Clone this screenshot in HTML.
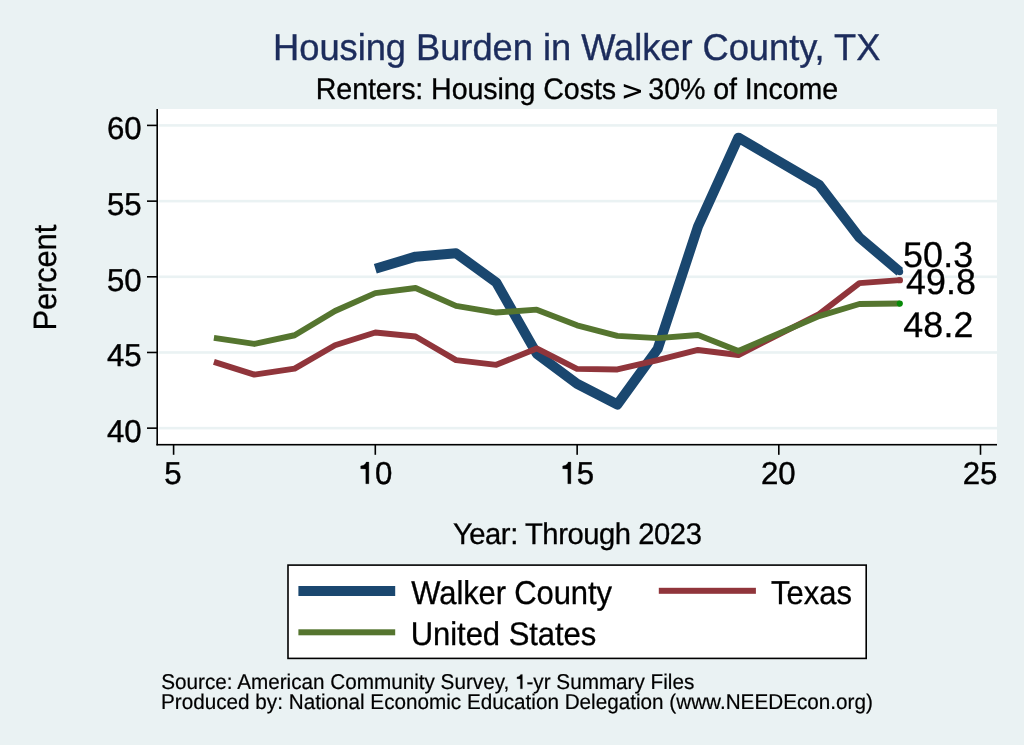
<!DOCTYPE html>
<html><head><meta charset="utf-8"><title>Housing Burden in Walker County, TX</title><style>
html,body{margin:0;padding:0;background:#EAF2F3;overflow:hidden;}
svg{display:block;will-change:transform;}
text{font-family:"Liberation Sans",sans-serif;text-rendering:geometricPrecision;}
</style></head><body>
<svg width="1024" height="745" viewBox="0 0 1024 745">
<rect x="0" y="0" width="1024" height="745" fill="#EAF2F3"/>
<text transform="translate(273.1,59.6) scale(1,1.0274)" font-size="36.3" style="fill:#1C2C5C;stroke:#1C2C5C;stroke-width:0.35px;letter-spacing:-0.038px;">Housing Burden in Walker County, TX</text>
<text transform="translate(315.8,98.65) scale(1,1.0419)" font-size="28.6" style="fill:#000;stroke:#000;stroke-width:0.3px;letter-spacing:-0.081px;">Renters: Housing Costs <tspan style="fill:transparent;stroke:none">&gt;</tspan> 30% of Income</text>
<polygon points="623.8,84.0 641.0,90.1 641.0,92.6 623.8,98.85 623.8,95.85 637.8,91.35 623.8,86.85" fill="#000"/>
<rect x="157" y="109" width="840" height="335.5" fill="#fff"/>
<rect x="158.6" y="124.10" width="838.4" height="2.6" fill="#EAF2F3"/><rect x="158.6" y="199.84" width="838.4" height="2.6" fill="#EAF2F3"/><rect x="158.6" y="275.50" width="838.4" height="2.6" fill="#EAF2F3"/><rect x="158.6" y="351.17" width="838.4" height="2.6" fill="#EAF2F3"/><rect x="158.6" y="426.85" width="838.4" height="2.6" fill="#EAF2F3"/>
<polyline points="375.3,268.75 415.6,256.65 456.0,253.25 496.3,282.55 536.7,353.65 577.0,383.75 617.4,404.55 657.7,348.85 698.0,226.55 738.4,137.65 819.1,184.85 859.4,237.45 899.8,271.75" fill="none" stroke="#1A476F" stroke-width="10" stroke-linejoin="round" stroke-linecap="butt"/>
<circle cx="899.8" cy="271.75" r="3.4" fill="#1A476F"/>
<polyline points="213.9,361.85 254.3,374.60 294.6,368.60 335.0,345.25 375.3,332.55 415.6,336.55 456.0,360.15 496.3,364.85 536.7,348.45 577.0,368.85 617.4,369.45 657.7,360.05 698.0,349.95 738.4,355.05 819.1,314.05 859.4,283.15 899.8,280.15" fill="none" stroke="#90353B" stroke-width="5.9" stroke-linejoin="round" stroke-linecap="butt"/>
<circle cx="899.8" cy="280.15" r="3.2" fill="#90353B"/>
<polyline points="213.9,337.95 254.3,343.95 294.6,335.25 335.0,310.95 375.3,293.15 415.6,288.05 456.0,305.85 496.3,312.55 536.7,309.65 577.0,325.35 617.4,335.85 657.7,338.15 698.0,334.95 738.4,350.95 819.1,316.15 859.4,303.95 899.8,303.55" fill="none" stroke="#55752F" stroke-width="5.9" stroke-linejoin="round" stroke-linecap="butt"/>
<circle cx="899.8" cy="303.55" r="3.1" fill="#078A07"/>
<rect x="156.4" y="109" width="1.6" height="336.3" fill="#000"/>
<rect x="156.4" y="443.9" width="840.6" height="1.6" fill="#000"/>
<rect x="147" y="124.60" width="10.5" height="1.6" fill="#000"/><rect x="147" y="200.34" width="10.5" height="1.6" fill="#000"/><rect x="147" y="276.00" width="10.5" height="1.6" fill="#000"/><rect x="147" y="351.67" width="10.5" height="1.6" fill="#000"/><rect x="147" y="427.35" width="10.5" height="1.6" fill="#000"/><rect x="172.80" y="444.5" width="1.6" height="10.3" fill="#000"/><rect x="374.50" y="444.5" width="1.6" height="10.3" fill="#000"/><rect x="576.35" y="444.5" width="1.6" height="10.3" fill="#000"/><rect x="778.00" y="444.5" width="1.6" height="10.3" fill="#000"/><rect x="979.70" y="444.5" width="1.6" height="10.3" fill="#000"/>
<text transform="translate(106.9,139.25) scale(1,1.015)" font-size="31.2" style="fill:#000;stroke:#000;stroke-width:0.4px;">60</text><text transform="translate(106.9,214.99) scale(1,1.015)" font-size="31.2" style="fill:#000;stroke:#000;stroke-width:0.4px;">55</text><text transform="translate(106.9,290.65) scale(1,1.015)" font-size="31.2" style="fill:#000;stroke:#000;stroke-width:0.4px;">50</text><text transform="translate(106.9,366.32) scale(1,1.015)" font-size="31.2" style="fill:#000;stroke:#000;stroke-width:0.4px;">45</text><text transform="translate(106.9,442.0) scale(1,1.015)" font-size="31.2" style="fill:#000;stroke:#000;stroke-width:0.4px;">40</text>
<text transform="translate(164.33,483.95) scale(1,1.015)" font-size="31.2" style="fill:#000;stroke:#000;stroke-width:0.4px;">5</text><text transform="translate(761.0,483.95) scale(1,1.015)" font-size="31.2" style="fill:#000;stroke:#000;stroke-width:0.4px;">20</text><text transform="translate(962.7,483.95) scale(1,1.015)" font-size="31.2" style="fill:#000;stroke:#000;stroke-width:0.4px;">25</text><text transform="translate(374.9,483.95) scale(1,1.015)" font-size="31.2" style="fill:#000;stroke:#000;stroke-width:0.4px;">0</text><text transform="translate(576.8,483.95) scale(1,1.015)" font-size="31.2" style="fill:#000;stroke:#000;stroke-width:0.4px;">5</text><path transform="translate(369.0,483.85) scale(1.0)" fill="#000" stroke="#000" stroke-width="0.3" d="M-0.15,-21.75 L-0.15,-0.15 L-3.2,-0.15 L-3.2,-14.95 L-8.3,-15.2 L-8.3,-17.85 Q-4.8,-18.3 -3.6,-20.2 L-2.7,-21.75 Z"/><path transform="translate(571.0,483.85) scale(1.0)" fill="#000" stroke="#000" stroke-width="0.3" d="M-0.15,-21.75 L-0.15,-0.15 L-3.2,-0.15 L-3.2,-14.95 L-8.3,-15.2 L-8.3,-17.85 Q-4.8,-18.3 -3.6,-20.2 L-2.7,-21.75 Z"/>
<text transform="translate(903.0,266.6)" font-size="35.8" style="fill:#000;stroke:#000;stroke-width:0.3px;letter-spacing:0.172px;">50.3</text>
<text transform="translate(906.02,293.96)" font-size="35.8" style="fill:#000;stroke:#000;stroke-width:0.3px;letter-spacing:0.073px;">49.8</text>
<text transform="translate(903.22,336.67)" font-size="35.8" style="fill:#000;stroke:#000;stroke-width:0.3px;letter-spacing:0.212px;">48.2</text>
<text transform="translate(55.55,330.6) rotate(-90) scale(1,1.0419)" font-size="31.0" style="fill:#000;stroke:#000;stroke-width:0.3px;letter-spacing:-0.163px">Percent</text>
<text transform="translate(452.94,543.75) scale(1,1.0243)" font-size="29.2" style="fill:#000;stroke:#000;stroke-width:0.3px;letter-spacing:-0.441px;">Year: Through 2023</text>
<rect x="288" y="565.1" width="578.2" height="93.3" fill="#fff" stroke="#000" stroke-width="1.6"/>
<rect x="298.4" y="586" width="96.8" height="10" fill="#1A476F"/>
<rect x="658.8" y="587.8" width="97.1" height="6" fill="#90353B"/>
<rect x="298.4" y="629.3" width="96.8" height="6" fill="#55752F"/>
<text transform="translate(411.3,603.75) scale(1,1.064)" font-size="31.0" style="fill:#000;stroke:#000;stroke-width:0.3px;letter-spacing:-0.128px;">Walker County</text>
<text transform="translate(770.9,603.85) scale(1,1.065)" font-size="31.0" style="fill:#000;stroke:#000;stroke-width:0.3px;">Texas</text>
<text transform="translate(410.7,644.96) scale(1,1.0566)" font-size="31.0" style="fill:#000;stroke:#000;stroke-width:0.3px;letter-spacing:-0.041px;">United States</text>
<text transform="translate(161.23,688.94) scale(1,1.035)" font-size="20.7" style="fill:#000;stroke:#000;stroke-width:0.2px;">Source: American Community Survey, <tspan style="fill:transparent;stroke:none">1</tspan>-yr Summary Files</text>
<path transform="translate(522.5,688.95) scale(0.67)" fill="#000" stroke="#000" stroke-width="0.3" d="M-0.15,-21.75 L-0.15,-0.15 L-3.2,-0.15 L-3.2,-14.95 L-8.3,-15.2 L-8.3,-17.85 Q-4.8,-18.3 -3.6,-20.2 L-2.7,-21.75 Z"/>
<text transform="translate(161.04,708.9) scale(1,1.035)" font-size="20.7" style="fill:#000;stroke:#000;stroke-width:0.2px;">Produced by: National Economic Education Delegation (www.NEEDEcon.org)</text>
</svg>
</body></html>
